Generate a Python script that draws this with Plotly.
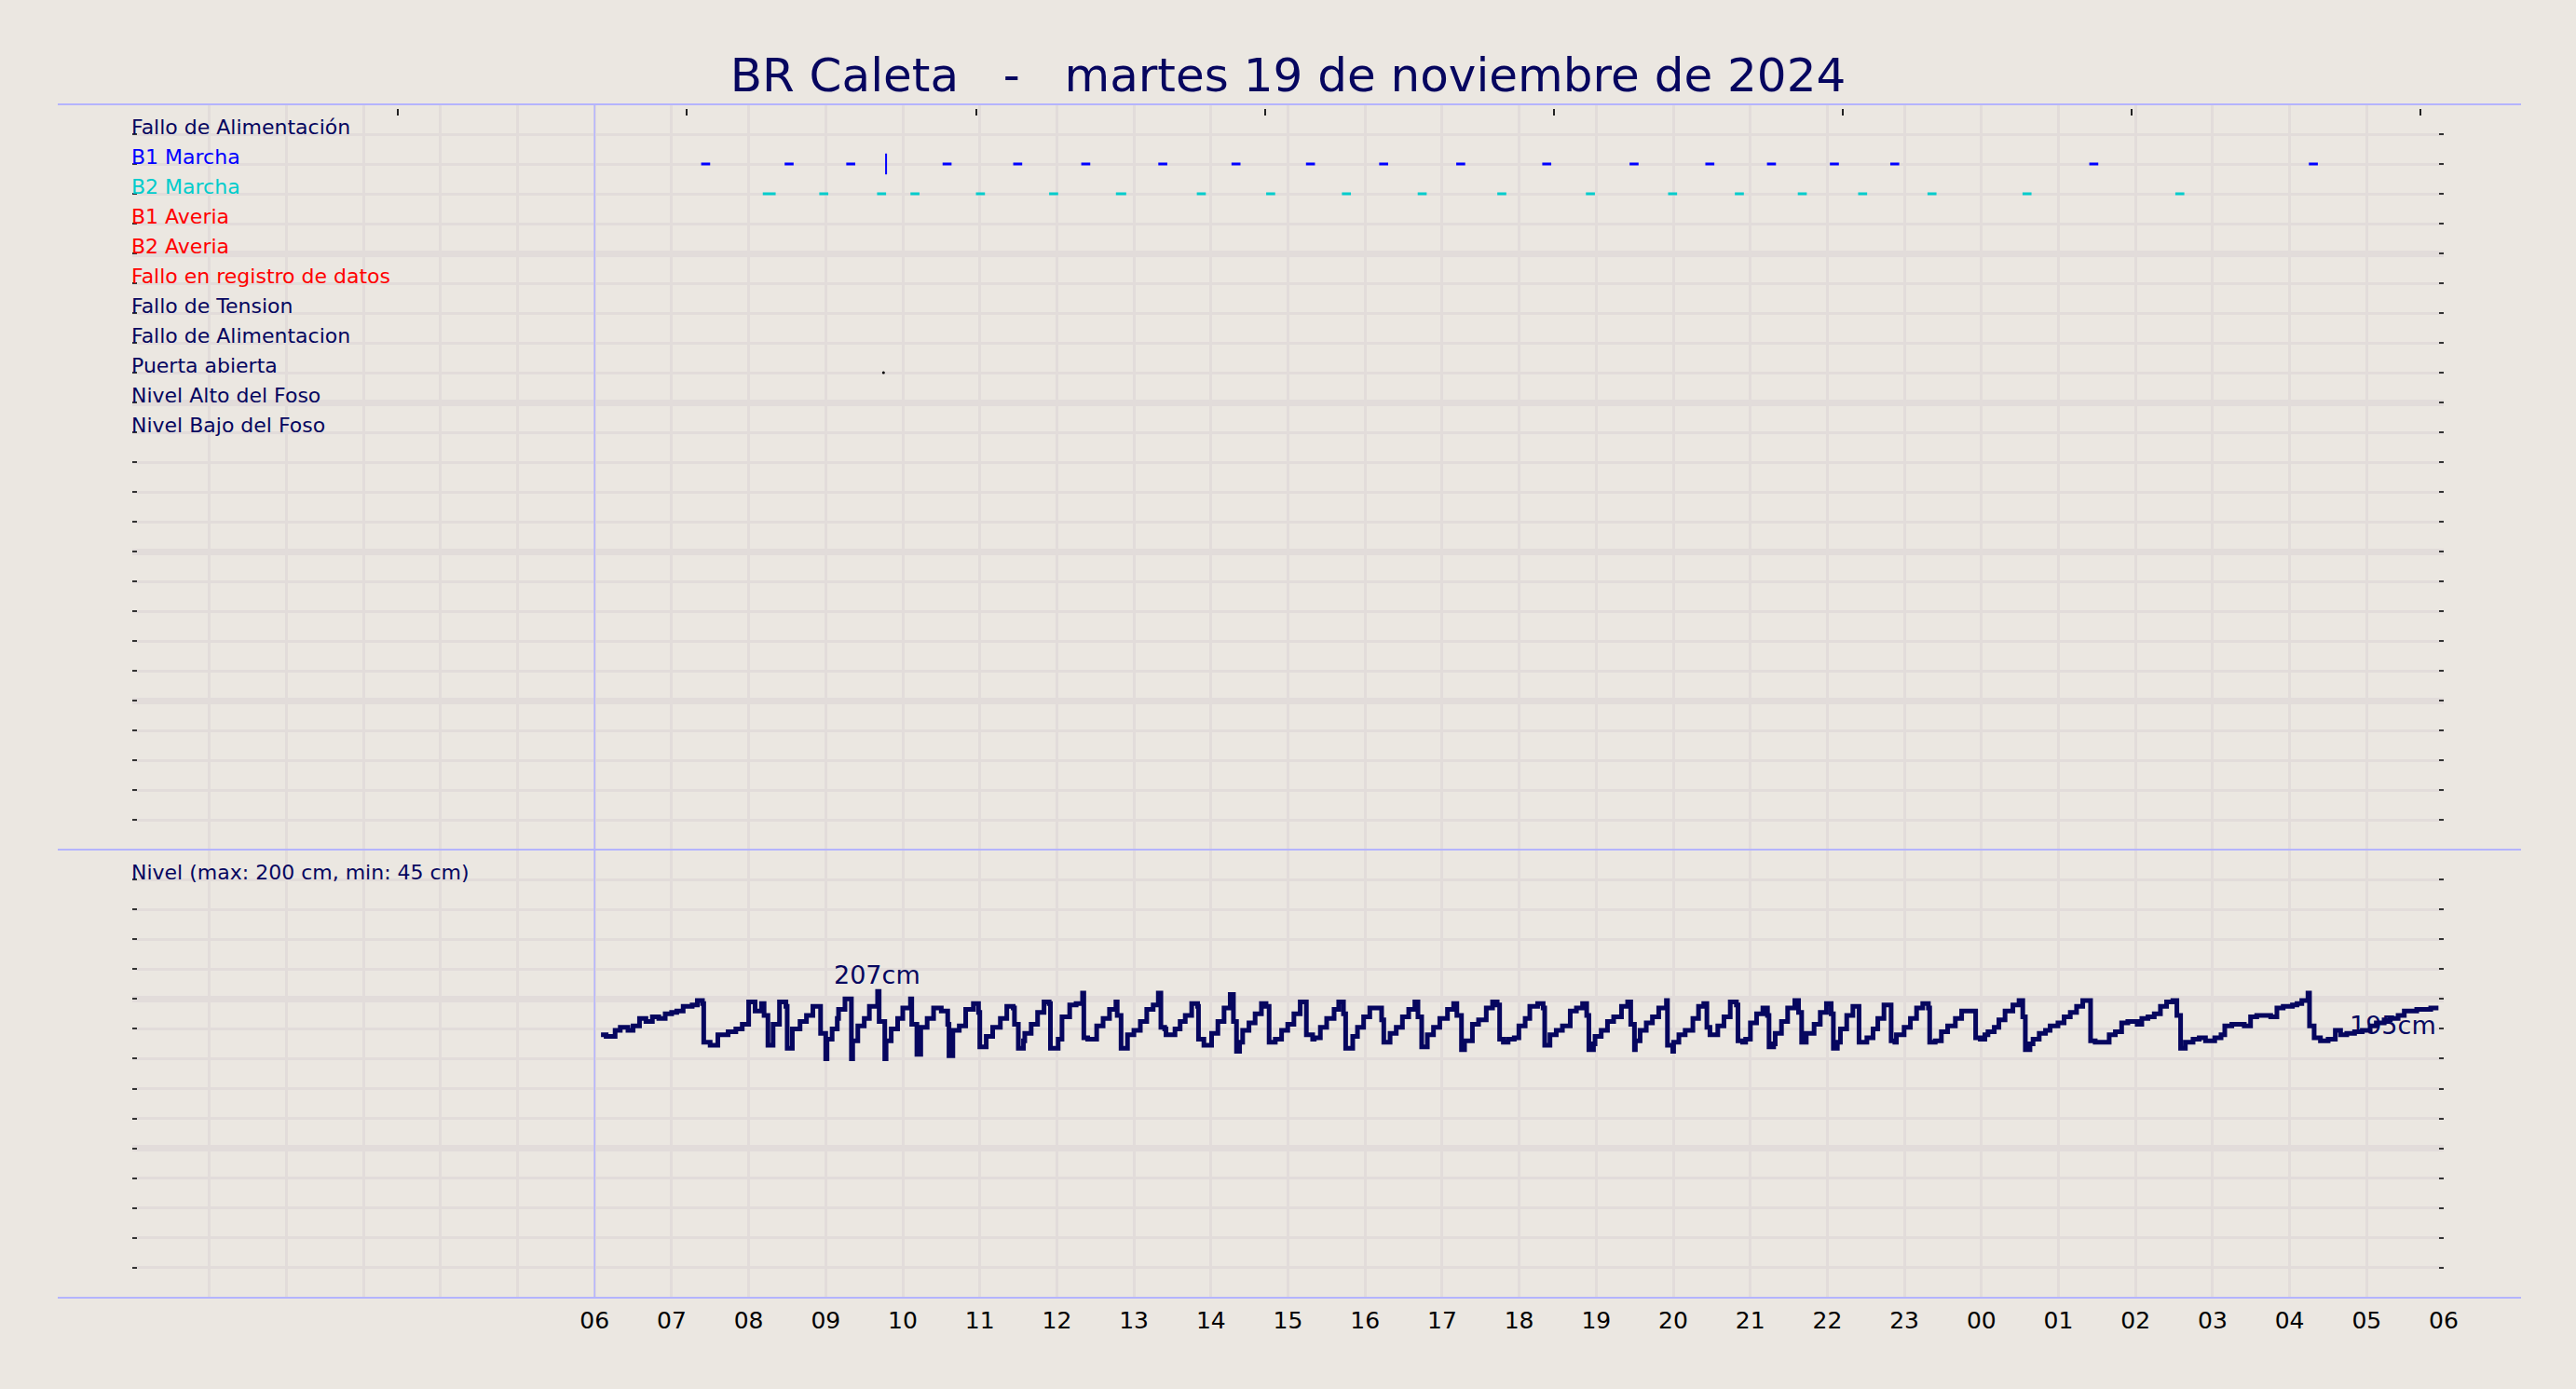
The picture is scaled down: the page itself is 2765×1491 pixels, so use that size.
import pandas as pd
import plotly.graph_objects as go

# --- datos -----------------------------------------------------------------
titulo = "BR Caleta\u00a0\u00a0\u00a0-\u00a0\u00a0\u00a0martes 19 de noviembre de 2024"
fecha = "2024-11-19"

senales = ["Fallo de Alimentación", "B1 Marcha", "B2 Marcha", "B1 Averia", "B2 Averia",
           "Fallo en registro de datos", "Fallo de Tension", "Fallo de Alimentacion",
           "Puerta abierta", "Nivel Alto del Foso", "Nivel Bajo del Foso"]
colores_senal = ["#06065f", "#0000ff", "#00cccc", "#ff0000", "#ff0000",
                 "#ff0000", "#06065f", "#06065f", "#06065f", "#06065f", "#06065f"]

# marchas de bombas (inicio / fin)
b1_inicio = ["07:23", "08:28", "09:16", "10:31", "11:26", "12:19", "13:19", "14:16", "15:14", "16:11",
             "17:11", "18:18", "19:26", "20:25", "21:13", "22:02", "22:49", "01:24", "04:15"]
b1_fin = ["07:30", "08:35", "09:23", "10:38", "11:33", "12:26", "13:26", "14:23", "15:21", "16:18",
          "17:18", "18:25", "19:33", "20:32", "21:20", "22:09", "22:56", "01:31", "04:22"]
b1_puntual = ["09:47"]
b2_inicio = ["08:11", "08:55", "09:40", "10:06", "10:57", "11:54", "12:46", "13:49", "14:43", "15:42",
             "16:41", "17:43", "18:52", "19:56", "20:48", "21:37", "22:24", "23:18", "00:32", "02:31"]
b2_fin = ["08:21", "09:02", "09:47", "10:13", "11:04", "12:01", "12:54", "13:56", "14:50", "15:49",
          "16:48", "17:50", "18:59", "20:03", "20:55", "21:44", "22:31", "23:25", "00:39", "02:38"]
puerta_abierta = ["09:45"]

# nivel del foso: minutos desde las 06:00 y cm
nivel_min = [5, 9, 16, 20, 26, 30, 35, 40, 45, 50, 55, 60, 64, 69, 76, 80, 84, 85, 90, 96,
             104, 110, 115, 120, 125, 130, 132, 135, 139, 144, 149, 150, 154, 160, 165, 170, 176, 180, 181, 185,
             189, 190, 195, 200, 201, 205, 210, 214, 220.4, 221.6, 226, 227, 231, 236, 240, 246, 247, 251, 254, 259,
             264, 270, 275, 276, 279, 284, 289, 295, 299, 300, 305, 310, 316, 321, 326, 327, 330, 334, 335, 340,
             345, 350, 354, 355, 361, 364, 370, 375, 380, 381, 384, 391, 396, 401, 406, 407, 410, 415, 420, 425,
             430, 435, 439, 441, 444, 445, 452, 456, 460, 465, 469.6, 470.3, 474.5, 480.5, 485.4, 490.2, 495, 497.5, 499.9, 502.3,
             504.7, 509.6, 514.4, 519.3, 522.9, 525.3, 530.1, 535, 539.8, 544.6, 549.5, 554.3, 559.2, 560.4, 565.2, 570.1,
             575.9, 579.5, 583.2, 584.9, 590.4, 594.1, 598.9, 603.7, 612.9, 614.6, 619.5, 624.3, 629.1, 634, 638.8, 641.2,
             644.1, 648.5, 653.3, 658.2, 664.2, 669, 671.5, 675.1, 677.5, 683.6, 688.4, 694.4, 699.3, 702.9, 704.8, 707.7,
             711.4, 716.2, 719.8, 724.7, 728.3, 734.4, 738.7, 739.9, 744, 748.9, 753.7, 759.8, 764.6, 769.4, 772.6, 774.3,
             777.9, 779.1, 783.9, 788.8, 793.6, 799.7, 804.5, 806.9, 809.8, 810.5, 814.2, 819, 823.8, 828.7, 834.7, 835.5,
             839.6, 840.3, 844.4, 849.3, 855.3, 859.7, 863.8, 866.2, 868.6, 874.7, 879.5, 884.4, 889.2, 890.4, 894, 896.4,
             900.1, 904.9, 909.8, 913.4, 914.6, 918.2, 919.4, 924.3, 929.1, 934.7, 937.6, 940, 943.6, 949.7, 954.5, 959.3,
             963, 964.7, 967.8, 970.2, 975.1, 979.9, 984.7, 990.8, 995.6, 999.3, 1004.1, 1009.7, 1012.6, 1013.8, 1019.8, 1024.7,
             1029.5, 1034.3, 1038.7, 1039.7, 1044, 1048.8, 1053.7, 1059.7, 1064.6, 1075.5, 1079.1, 1082.7, 1085.1, 1090, 1093.6, 1098.4,
             1104.5, 1109.3, 1112.2, 1114.2, 1117.8, 1120.2, 1125, 1129.9, 1133.5, 1139.6, 1144.4, 1149.2, 1154.1, 1158.9, 1165, 1168.6,
             1179.5, 1184.3, 1189.2, 1194, 1201.3, 1204.9, 1209.7, 1214.6, 1219.4, 1224.2, 1229.1, 1232.2, 1235.1, 1238.8, 1244.8, 1249.6,
             1254.5, 1261.7, 1266.6, 1269.5, 1275, 1284.7, 1289.6, 1294.4, 1305.3, 1310.1, 1315, 1322.2, 1325.8, 1329.5, 1334.3, 1335.5,
             1339.1, 1344, 1350, 1355.6, 1359.7, 1364.5, 1370.6, 1376.6, 1382.7, 1387.5, 1393.6, 1398.4, 1404.5, 1409.3, 1419, 1429.9,
             1435.9]
nivel_cm = [176, 175, 179, 181, 179, 182, 187, 185, 188, 187, 190, 191, 192, 195, 196, 199, 197, 171, 169, 176,
            178, 180, 183, 198, 192, 197, 189, 169, 183, 198, 195, 167, 180, 185, 189, 195, 177, 160, 173, 180,
            187, 193, 200, 160, 172, 182, 187, 195, 205, 185, 160, 172, 180, 187, 194, 200, 183, 163, 181, 187,
            194, 192, 183, 162, 179, 182, 193, 197, 191, 168, 175, 181, 187, 195, 194, 183, 167, 172, 177, 183,
            191, 198, 197, 167, 173, 188, 196, 197, 204, 174, 173, 182, 187, 193, 198, 189, 167, 176, 179, 185,
            193, 196, 204, 181, 180, 176, 180, 185, 189, 197, 195, 173, 169, 177, 185, 194, 203, 185, 165, 171,
            179, 184, 190, 197, 195, 171, 173, 179, 183, 190, 198, 176, 173, 174, 181, 187,
            193, 198, 190, 167, 175, 181, 188, 194, 186, 171, 177, 181, 188, 193, 198, 188,
            168, 176, 181, 187, 193, 197, 189, 166, 172, 183, 186, 194, 198, 196, 173, 171,
            173, 174, 182, 187, 195, 197, 194, 169, 176, 179, 182, 192, 194, 197, 189, 166,
            170, 175, 179, 185, 188, 195, 198, 183, 166, 172, 179, 184, 188, 194, 199, 169,
            165, 171, 176, 179, 187, 195, 197, 181, 176, 182, 188, 198, 196, 172, 171, 173,
            184, 190, 194, 189, 168, 170, 177, 185, 194, 199, 191, 171, 177, 183, 191, 197,
            190, 167, 171, 180, 189, 195, 171, 174, 180, 187, 196, 172, 171, 176, 181, 187,
            194, 197, 194, 171, 172, 178, 182, 187, 192, 174, 173, 176, 178, 181, 186, 192,
            196, 199, 188, 166, 170, 173, 177, 179, 182, 184, 188, 191, 195, 199, 172, 171,
            176, 178, 184, 185, 183, 187, 188, 190, 195, 198, 199, 189, 167, 171, 173, 174,
            172, 174, 176, 182, 183, 182, 188, 189, 188, 194, 195, 196, 197, 199, 204, 182,
            174, 172, 173, 179, 176, 177, 178, 179, 182, 184, 186, 187, 189, 192, 193, 194,
            194]
etiqueta_nivel = "Nivel (max: 200 cm, min: 45 cm)"
etiqueta_max = "207cm"
etiqueta_fin = "195cm"

# --- estilo ----------------------------------------------------------------
FONDO = "#ebe7e1"
REJILLA = "#e2dcda"
AZUL_MARCO = "#b4b4ff"
NAVY = "#06065f"
FUENTE = "DejaVu Sans"

dia = pd.Timestamp(fecha)
inicio_dia = dia + pd.Timedelta(hours=6)
fin_vista = dia + pd.Timedelta(hours=30)


def hora(hhmm):
    t = pd.Timestamp(f"{fecha} {hhmm}")
    if t.hour < 6:
        t += pd.Timedelta(days=1)
    return t


def tramos(inicios, fines, fila):
    xs, ys = [], []
    for a, b in zip(inicios, fines):
        xs += [hora(a), hora(b), None]
        ys += [fila, fila, None]
    return xs, ys


fig = go.Figure()

fila_b1 = senales.index("B1 Marcha") + 1
fila_b2 = senales.index("B2 Marcha") + 1
fila_puerta = senales.index("Puerta abierta") + 1

x, y = tramos(b1_inicio, b1_fin, fila_b1)
fig.add_trace(go.Scatter(x=x, y=y, mode="lines", line=dict(color="#0000ff", width=3),
                         xaxis="x2", yaxis="y2", showlegend=False))
fig.add_trace(go.Scatter(x=[hora(h) for h in b1_puntual], y=[fila_b1] * len(b1_puntual), mode="markers",
                         marker=dict(symbol="line-ns", size=16, line=dict(color="#0000ff", width=2)),
                         xaxis="x2", yaxis="y2", showlegend=False))
x, y = tramos(b2_inicio, b2_fin, fila_b2)
fig.add_trace(go.Scatter(x=x, y=y, mode="lines", line=dict(color="#00cccc", width=3),
                         xaxis="x2", yaxis="y2", showlegend=False))
fig.add_trace(go.Scatter(x=[hora(h) for h in puerta_abierta], y=[fila_puerta] * len(puerta_abierta),
                         mode="markers", marker=dict(color="black", size=3),
                         xaxis="x2", yaxis="y2", showlegend=False))

tiempos = inicio_dia + pd.to_timedelta(nivel_min, unit="min")
fig.add_trace(go.Scatter(x=tiempos, y=nivel_cm, mode="lines", line=dict(color=NAVY, width=5, shape="hv"),
                         xaxis="x", yaxis="y", showlegend=False))

# trazas vacías para que se dibujen los ejes superpuestos
for xa, ya in [("x2", "y3"), ("x2", "y4"), ("x", "y5"), ("x", "y6"), ("x3", "y2")]:
    fig.add_trace(go.Scatter(x=[None], y=[None], mode="lines", xaxis=xa, yaxis=ya,
                             showlegend=False, hoverinfo="skip"))

i_max = nivel_cm.index(max(nivel_cm))
fig.add_annotation(x=tiempos[i_max], y=nivel_cm[i_max], text=etiqueta_max, showarrow=False,
                   xanchor="center", yanchor="bottom", font=dict(size=27, color=NAVY))
fig.add_annotation(x=tiempos[-1], y=nivel_cm[-1], text=etiqueta_fin, showarrow=False,
                   xanchor="right", yanchor="middle", yshift=-19, font=dict(size=27, color=NAVY))

# nombres de las señales, sobre la línea de su fila
for i, (s, c) in enumerate(zip(senales, colores_senal)):
    fig.add_annotation(xref="paper", yref="y2", x=0, y=i + 1, text=s, showarrow=False,
                       xanchor="left", yanchor="middle", xshift=-3, yshift=8, font=dict(size=22, color=c))

niveles = list(range(20, 300, 20))
fig.add_annotation(xref="paper", yref="y", x=0, y=niveles[-1], text=etiqueta_nivel, showarrow=False,
                   xanchor="left", yanchor="middle", xshift=-3, yshift=8, font=dict(size=22, color=NAVY))

horas = pd.date_range(dia, fin_vista, freq="h")
texto_horas = [h.strftime("%H") if h >= inicio_dia else "" for h in horas]
filas = list(range(1, 25))

corte = 1 - 800 / 1281
comun_x = dict(type="date", range=[dia, fin_vista], tickmode="array", tickvals=horas,
               showgrid=True, gridcolor=REJILLA, gridwidth=3, zeroline=False, showline=False, ticks="")
marcas = dict(ticks="inside", ticklen=5, tickwidth=2, tickcolor="#333333", showgrid=False,
              zeroline=False, showticklabels=False, tickmode="array")

fig.update_layout(
    width=2765, height=1491,
    margin=dict(l=142, r=142, t=112, b=98),
    paper_bgcolor=FONDO, plot_bgcolor=FONDO,
    font=dict(family=FUENTE, color=NAVY),
    title=dict(text=titulo, x=0.5, xanchor="center", y=1 - 80 / 1491, yanchor="middle",
               font=dict(size=50, color=NAVY)),
    xaxis=dict(comun_x, domain=[0, 1], anchor="y", ticktext=texto_horas, ticklabelstandoff=7,
               tickfont=dict(size=25, color="black")),
    xaxis2=dict(comun_x, domain=[0, 1], anchor="y2", matches="x", showticklabels=False),
    xaxis3=dict(type="date", range=[dia, fin_vista], overlaying="x2", side="top", anchor="free",
                position=1 - 4 / 1281, tick0=dia + pd.Timedelta(minutes=207), dtick=225 * 60 * 1000,
                ticks="inside", ticklen=7, tickwidth=2, tickcolor="#222222",
                showticklabels=False, showgrid=False, zeroline=False),
    yaxis=dict(domain=[0, corte], anchor="x", range=[0, 300], tick0=0, dtick=100,
               showgrid=True, gridcolor=REJILLA, gridwidth=7, zeroline=False, showticklabels=False, ticks="",
               minor=dict(tick0=0, dtick=20, showgrid=True, gridcolor=REJILLA, gridwidth=3)),
    yaxis2=dict(domain=[corte, 1], anchor="x2", range=[25, 0], tick0=0, dtick=5,
                showgrid=True, gridcolor=REJILLA, gridwidth=7, zeroline=False, showticklabels=False, ticks="",
                minor=dict(tick0=0, dtick=1, showgrid=True, gridcolor=REJILLA, gridwidth=3)),
    yaxis3=dict(marcas, overlaying="y2", anchor="x2", side="left", range=[25, 0], tickvals=filas),
    yaxis4=dict(marcas, overlaying="y2", anchor="x2", side="right", range=[25, 0], tickvals=filas),
    yaxis5=dict(marcas, overlaying="y", anchor="x", side="left", range=[0, 300], tickvals=niveles),
    yaxis6=dict(marcas, overlaying="y", anchor="x", side="right", range=[0, 300], tickvals=niveles),
)

linea = dict(color=AZUL_MARCO, width=2)
for yp in [1, corte, 0]:
    fig.add_shape(type="line", xref="paper", yref="paper", x0=-80 / 2481, x1=1 + 83 / 2481,
                  y0=yp, y1=yp, line=linea)
fig.add_shape(type="line", xref="x", yref="paper", x0=inicio_dia, x1=inicio_dia, y0=0, y1=1,
              line=dict(color=AZUL_MARCO, width=1.5))

fig.write_html("out.html", config={"displayModeBar": False},
               post_script="document.body.style.margin='0';")
